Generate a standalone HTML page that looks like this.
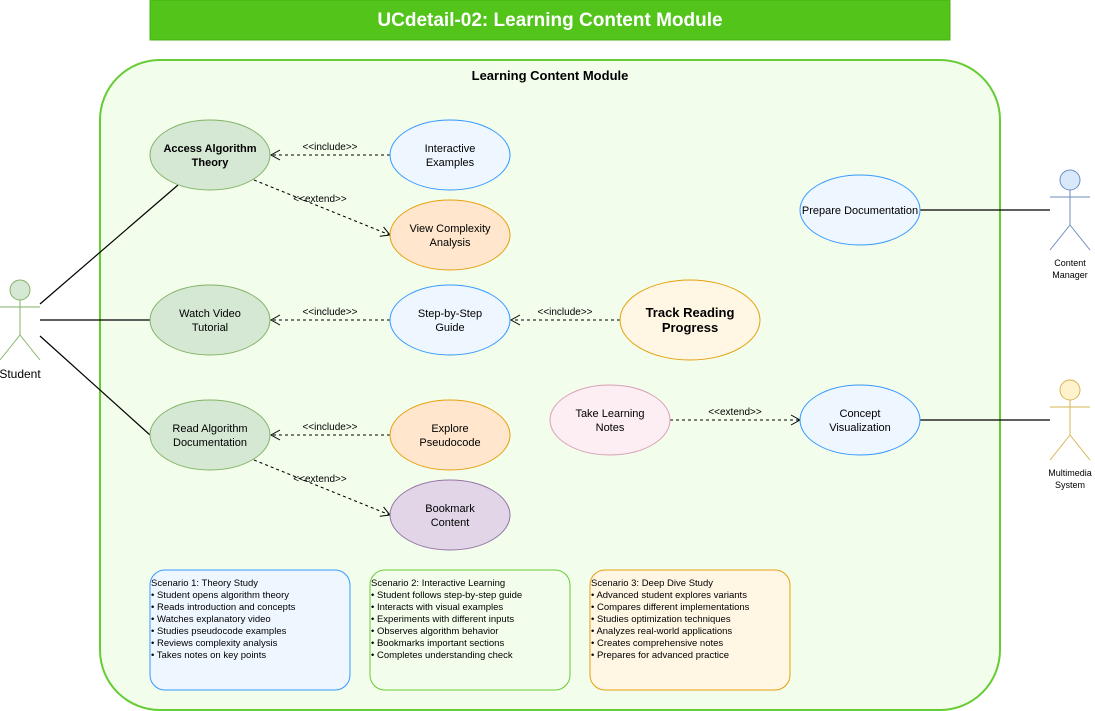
<!DOCTYPE html>
<html><head><meta charset="utf-8"><style>
html,body{margin:0;padding:0;background:#fff;}
svg{display:block;font-family:"Liberation Sans",Arial,sans-serif;}
</style></head><body>
<svg width="1095" height="711" viewBox="0 0 1095 711" xmlns="http://www.w3.org/2000/svg">
<defs>
<marker id="ah" markerWidth="12" markerHeight="12" refX="10" refY="6" orient="auto" markerUnits="userSpaceOnUse">
<path d="M1,1 L10,6 L1,11" fill="none" stroke="#000" stroke-width="1"/>
</marker>
</defs>
<rect x="150" y="0" width="800" height="40" fill="#52c41a" stroke="#4ab017"/>
<text x="550" y="26" text-anchor="middle" font-size="19" font-weight="bold" fill="#fff">UCdetail-02: Learning Content Module</text>

<rect x="100" y="60" width="900" height="650" rx="60" fill="#f3fdec" stroke="#66cc33" stroke-width="2"/>
<text x="550" y="80" text-anchor="middle" font-size="13" font-weight="bold">Learning Content Module</text>

<!-- actor lines -->
<g stroke="#000" stroke-width="1.2" fill="none">
<line x1="40" y1="304" x2="178" y2="185"/>
<line x1="40" y1="320" x2="150" y2="320"/>
<line x1="40" y1="336" x2="150" y2="435"/>
<line x1="920" y1="210" x2="1050" y2="210"/>
<line x1="920" y1="420" x2="1050" y2="420"/>
</g>
<!-- dashed relations -->
<g stroke="#000" stroke-width="1" stroke-dasharray="3,3" fill="none" marker-end="url(#ah)">
<line x1="390" y1="155" x2="271" y2="155"/>
<line x1="254" y1="180" x2="390" y2="235"/>
<line x1="390" y1="320" x2="271" y2="320"/>
<line x1="620" y1="320" x2="511" y2="320"/>
<line x1="390" y1="435" x2="271" y2="435"/>
<line x1="254" y1="460" x2="390" y2="515"/>
<line x1="670" y1="420" x2="800" y2="420"/>
</g>
<g font-size="10" text-anchor="middle">
<text x="330" y="150">&lt;&lt;include&gt;&gt;</text>
<text x="320" y="202">&lt;&lt;extend&gt;&gt;</text>
<text x="330" y="315">&lt;&lt;include&gt;&gt;</text>
<text x="565" y="315">&lt;&lt;include&gt;&gt;</text>
<text x="330" y="430">&lt;&lt;include&gt;&gt;</text>
<text x="320" y="482">&lt;&lt;extend&gt;&gt;</text>
<text x="735" y="415">&lt;&lt;extend&gt;&gt;</text>
</g>

<!-- use cases -->
<g font-size="11" text-anchor="middle">
<ellipse cx="210" cy="155" rx="60" ry="35" fill="#d5e8d4" stroke="#82b366"/>
<text x="210" y="152" font-weight="bold">Access Algorithm</text><text x="210" y="166" font-weight="bold">Theory</text>
<ellipse cx="450" cy="155" rx="60" ry="35" fill="#eef6ff" stroke="#3399ff"/>
<text x="450" y="152">Interactive</text><text x="450" y="166">Examples</text>
<ellipse cx="450" cy="235" rx="60" ry="35" fill="#ffe6cc" stroke="#e5a00d"/>
<text x="450" y="232">View Complexity</text><text x="450" y="246">Analysis</text>
<ellipse cx="210" cy="320" rx="60" ry="35" fill="#d5e8d4" stroke="#82b366"/>
<text x="210" y="317">Watch Video</text><text x="210" y="331">Tutorial</text>
<ellipse cx="450" cy="320" rx="60" ry="35" fill="#eef6ff" stroke="#3399ff"/>
<text x="450" y="317">Step-by-Step</text><text x="450" y="331">Guide</text>
<ellipse cx="690" cy="320" rx="70" ry="40" fill="#fff6e4" stroke="#e5a00d"/>
<text x="690" y="317" font-size="13" font-weight="bold">Track Reading</text><text x="690" y="332" font-size="13" font-weight="bold">Progress</text>
<ellipse cx="210" cy="435" rx="60" ry="35" fill="#d5e8d4" stroke="#82b366"/>
<text x="210" y="432">Read Algorithm</text><text x="210" y="446">Documentation</text>
<ellipse cx="450" cy="435" rx="60" ry="35" fill="#ffe6cc" stroke="#e5a00d"/>
<text x="450" y="432">Explore</text><text x="450" y="446">Pseudocode</text>
<ellipse cx="450" cy="515" rx="60" ry="35" fill="#e1d5e7" stroke="#9673a6"/>
<text x="450" y="512">Bookmark</text><text x="450" y="526">Content</text>
<ellipse cx="610" cy="420" rx="60" ry="35" fill="#fdeef3" stroke="#d9a0b8"/>
<text x="610" y="417">Take Learning</text><text x="610" y="431">Notes</text>
<ellipse cx="860" cy="420" rx="60" ry="35" fill="#eef6ff" stroke="#3399ff"/>
<text x="860" y="417">Concept</text><text x="860" y="431">Visualization</text>
<ellipse cx="860" cy="210" rx="60" ry="35" fill="#eef6ff" stroke="#3399ff"/>
<text x="860" y="214">Prepare Documentation</text>
</g>

<!-- actors -->
<g stroke="#82b366" stroke-width="1" fill="none">
<circle cx="20" cy="290" r="10" fill="#d5e8d4"/>
<line x1="20" y1="300" x2="20" y2="335"/><line x1="0" y1="307" x2="40" y2="307"/>
<line x1="20" y1="335" x2="0" y2="360"/><line x1="20" y1="335" x2="40" y2="360"/>
</g>
<text x="20" y="378" font-size="12" text-anchor="middle">Student</text>
<g stroke="#6c8ebf" stroke-width="1" fill="none">
<circle cx="1070" cy="180" r="10" fill="#dae8fc"/>
<line x1="1070" y1="190" x2="1070" y2="225"/><line x1="1050" y1="197" x2="1090" y2="197"/>
<line x1="1070" y1="225" x2="1050" y2="250"/><line x1="1070" y1="225" x2="1090" y2="250"/>
</g>
<text x="1070" y="266" font-size="9" text-anchor="middle">Content</text>
<text x="1070" y="278" font-size="9" text-anchor="middle">Manager</text>
<g stroke="#d6b656" stroke-width="1" fill="none">
<circle cx="1070" cy="390" r="10" fill="#fff2cc"/>
<line x1="1070" y1="400" x2="1070" y2="435"/><line x1="1050" y1="407" x2="1090" y2="407"/>
<line x1="1070" y1="435" x2="1050" y2="460"/><line x1="1070" y1="435" x2="1090" y2="460"/>
</g>
<text x="1070" y="476" font-size="9" text-anchor="middle">Multimedia</text>
<text x="1070" y="488" font-size="9" text-anchor="middle">System</text>

<!-- scenarios -->
<rect x="150" y="570" width="200" height="120" rx="15" fill="#eef6ff" stroke="#3399ff"/>
<rect x="370" y="570" width="200" height="120" rx="15" fill="#f3fdec" stroke="#66cc33"/>
<rect x="590" y="570" width="200" height="120" rx="15" fill="#fff6e4" stroke="#e5a00d"/>
<g font-size="9.5">
<text x="151" y="586">Scenario 1: Theory Study</text>
<text x="151" y="598">• Student opens algorithm theory</text>
<text x="151" y="610">• Reads introduction and concepts</text>
<text x="151" y="622">• Watches explanatory video</text>
<text x="151" y="634">• Studies pseudocode examples</text>
<text x="151" y="646">• Reviews complexity analysis</text>
<text x="151" y="658">• Takes notes on key points</text>
<text x="371" y="586">Scenario 2: Interactive Learning</text>
<text x="371" y="598">• Student follows step-by-step guide</text>
<text x="371" y="610">• Interacts with visual examples</text>
<text x="371" y="622">• Experiments with different inputs</text>
<text x="371" y="634">• Observes algorithm behavior</text>
<text x="371" y="646">• Bookmarks important sections</text>
<text x="371" y="658">• Completes understanding check</text>
<text x="591" y="586">Scenario 3: Deep Dive Study</text>
<text x="591" y="598">• Advanced student explores variants</text>
<text x="591" y="610">• Compares different implementations</text>
<text x="591" y="622">• Studies optimization techniques</text>
<text x="591" y="634">• Analyzes real-world applications</text>
<text x="591" y="646">• Creates comprehensive notes</text>
<text x="591" y="658">• Prepares for advanced practice</text>
</g>
</svg>
</body></html>
